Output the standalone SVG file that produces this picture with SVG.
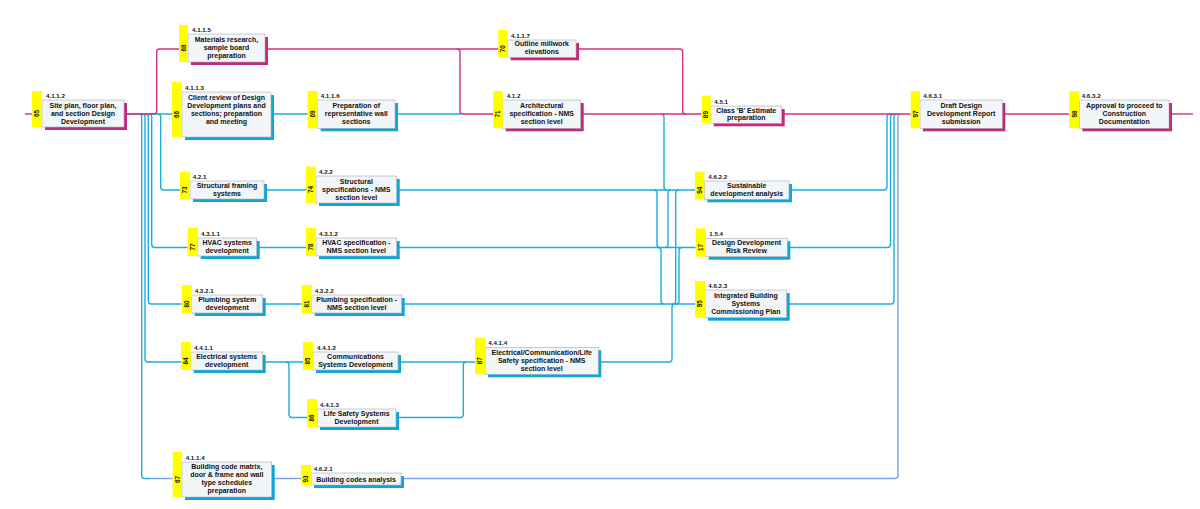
<svg xmlns="http://www.w3.org/2000/svg" width="1200" height="509" viewBox="0 0 1200 509">
<style>
.bg{fill:#ffffff}
.box{fill:#f3f6f9;stroke:#a9adb3;stroke-width:0.6}
.sm{fill:#c4287c}
.sc{fill:#0ea6d7}
.tab{fill:#ffff00}
.wbs{font-family:"Liberation Sans",Arial,sans-serif;font-weight:bold;font-size:6.2px;fill:#111}
.num{font-family:"Liberation Sans",Arial,sans-serif;font-weight:bold;font-size:6.4px;fill:#111;text-anchor:middle}
.lbl{font-family:"Liberation Sans",Arial,sans-serif;font-weight:bold;font-size:7px;fill:#111;text-anchor:middle}
.cm{fill:none;stroke:#d2307f;stroke-width:1.4}
.cc{fill:none;stroke:#1aaedb;stroke-width:1.4}
.cb{fill:none;stroke:#7aa2e4;stroke-width:1.4}
</style>
<rect class="bg" x="0" y="0" width="1200" height="509"/>
<g id="connectors">
<!-- cyan -->
<path class="cc" d="M127,114 H172"/>
<path class="cc" d="M157.7,114 Q160.7,114 160.7,117 V187 Q160.7,190 163.7,190 H180"/>
<path class="cc" d="M148.7,114 Q151.7,114 151.7,117 V244.5 Q151.7,247.5 154.7,247.5 H187.7"/>
<path class="cc" d="M145.3,114 Q148.3,114 148.3,117 V301 Q148.3,304 151.3,304 H181.7"/>
<path class="cc" d="M142,114 Q145,114 145,117 V359 Q145,362 148,362 H181"/>
<path class="cc" d="M138.7,114 Q141.7,114 141.7,117 V475.5 Q141.7,478.5 144.7,478.5 H150"/>
<path class="cb" d="M150,478.5 H172.7"/>
<path class="cc" d="M273,114 H307.7"/>
<path class="cc" d="M397,114 H461"/>
<path class="cc" d="M661,114 Q664,114 664,117 V187 Q664,190 667,190"/>
<path class="cc" d="M266,190 H306"/>
<path class="cc" d="M398.7,190 H695"/>
<path class="cc" d="M654,190 Q657,190 657,193 V244.5 Q657,247.5 660,247.5"/>
<path class="cc" d="M258.7,247.5 H306"/>
<path class="cc" d="M398.7,247.5 H695.7"/>
<path class="cc" d="M665,247.5 Q668,247.5 668,244.5 V193 Q668,190 671,190"/>
<path class="cc" d="M658,247.5 Q661,247.5 661,250.5 V301 Q661,304 664,304"/>
<path class="cc" d="M264.7,304 H301.7"/>
<path class="cc" d="M403.7,304 H695"/>
<path class="cc" d="M676,304 Q679,304 679,301 V250.5 Q679,247.5 682,247.5"/>
<path class="cc" d="M672.7,304 Q675.7,304 675.7,301 V193 Q675.7,190 678.7,190"/>
<path class="cc" d="M264.7,362 H303"/>
<path class="cc" d="M286,362 Q289,362 289,365 V414.5 Q289,417.5 292,417.5 H307"/>
<path class="cc" d="M400,362 H475"/>
<path class="cc" d="M398,417.5 H460.3 Q463.3,417.5 463.3,414.5 V365 Q463.3,362 466.3,362"/>
<path class="cc" d="M600.3,362 H669 Q672,362 672,359 V307 Q672,304 675,304"/>
<path class="cc" d="M791,190 H884 Q887,190 887,187 V117 Q887,114 890,114"/>
<path class="cc" d="M789,247.5 H887.5 Q890.5,247.5 890.5,244.5 V117 Q890.5,114 893.5,114"/>
<path class="cc" d="M788.3,304 H891 Q894,304 894,301 V117 Q894,114 897,114"/>
<!-- blue -->
<path class="cb" d="M274,478.5 H301"/>
<path class="cb" d="M403,478.5 H895 Q898,478.5 898,475.5 V117 Q898,114 901,114"/>
<!-- magenta (critical) -->
<path class="cm" d="M25,114 H32"/>
<path class="cm" d="M127,114 H153.7 Q156.7,114 156.7,111 V52 Q156.7,49 159.7,49 H179"/>
<path class="cm" d="M268,49 H498.3"/>
<path class="cm" d="M457,49 Q460,49 460,52 V111 Q460,114 463,114 H493.3"/>
<path class="cm" d="M578,49 H679.7 Q682.7,49 682.7,52 V111 Q682.7,114 685.7,114"/>
<path class="cm" d="M583,114 H701.7"/>
<path class="cm" d="M784,114 H910.7"/>
<path class="cm" d="M1004.3,114 H1069.3"/>
<path class="cm" d="M1171,114 H1193"/>
</g>

<g id="n65">
<rect class="sm" x="45" y="103" width="82" height="27"/>
<rect class="box" x="42" y="100" width="82" height="27"/>
<rect class="tab" x="32" y="91" width="10" height="36"/>
<text class="wbs" x="46" y="97.5">4.1.1.2</text>
<text class="num" transform="translate(37,113.5) rotate(-90)" y="2.2">65</text>
<text class="lbl"><tspan x="83" y="108.3">Site plan, floor plan,</tspan><tspan x="83" y="116.3">and section Design</tspan><tspan x="83" y="124.3">Development</tspan></text>
</g>

<g id="n68">
<rect class="sm" x="191" y="37" width="77" height="28"/>
<rect class="box" x="188" y="34" width="77" height="28"/>
<rect class="tab" x="179" y="25" width="9" height="37"/>
<text class="wbs" x="192" y="31.5">4.1.1.5</text>
<text class="num" transform="translate(183.5,48) rotate(-90)" y="2.2">68</text>
<text class="lbl"><tspan x="226.5" y="41.8">Materials research,</tspan><tspan x="226.5" y="49.8">sample board</tspan><tspan x="226.5" y="57.8">preparation</tspan></text>
</g>

<g id="n66">
<rect class="sc" x="185" y="95" width="89" height="45"/>
<rect class="box" x="182" y="92" width="89" height="45"/>
<rect class="tab" x="172" y="82" width="10" height="55"/>
<text class="wbs" x="185" y="89.5">4.1.1.3</text>
<text class="num" transform="translate(177,114.5) rotate(-90)" y="2.2">66</text>
<text class="lbl"><tspan x="226.5" y="99.5">Client review of Design</tspan><tspan x="226.5" y="107.5">Development  plans and</tspan><tspan x="226.5" y="115.5">sections; preparation</tspan><tspan x="226.5" y="123.5">and meeting</tspan></text>
</g>

<g id="n69">
<rect class="sc" x="320.7" y="103" width="77.3" height="28.3"/>
<rect class="box" x="317.7" y="100" width="77.3" height="28.3"/>
<rect class="tab" x="307.7" y="91" width="10" height="37.3"/>
<text class="wbs" x="320.7" y="97.5">4.1.1.6</text>
<text class="num" transform="translate(312.7,114) rotate(-90)" y="2.2">69</text>
<text class="lbl"><tspan x="356.3" y="107.8">Preparation of</tspan><tspan x="356.3" y="115.8">representative wall</tspan><tspan x="356.3" y="123.8">sections</tspan></text>
</g>

<g id="n70">
<rect class="sm" x="510.7" y="43" width="68.3" height="17.3"/>
<rect class="box" x="507.7" y="40" width="68.3" height="17.3"/>
<rect class="tab" x="498.3" y="30" width="9.4" height="27.3"/>
<text class="wbs" x="511" y="37.5">4.1.1.7</text>
<text class="num" transform="translate(503,48.7) rotate(-90)" y="2.2">70</text>
<text class="lbl"><tspan x="541.8" y="46.2">Outline millwork</tspan><tspan x="541.8" y="54.4">elevations</tspan></text>
</g>

<g id="n71">
<rect class="sm" x="505.7" y="103" width="78" height="28.3"/>
<rect class="box" x="502.7" y="100" width="78" height="28.3"/>
<rect class="tab" x="493.3" y="91" width="9.4" height="37.3"/>
<text class="wbs" x="506.7" y="97.5">4.1.2</text>
<text class="num" transform="translate(498,114) rotate(-90)" y="2.2">71</text>
<text class="lbl"><tspan x="541.7" y="107.8">Architectural</tspan><tspan x="541.7" y="115.8">specification - NMS</tspan><tspan x="541.7" y="123.8">section level</tspan></text>
</g>

<g id="n89">
<rect class="sm" x="713.7" y="109" width="71" height="17.3"/>
<rect class="box" x="710.7" y="106" width="71" height="17.3"/>
<rect class="tab" x="701.7" y="95.7" width="9" height="27.6"/>
<text class="wbs" x="714.3" y="103.5">4.5.1</text>
<text class="num" transform="translate(706.2,114.6) rotate(-90)" y="2.2">89</text>
<text class="lbl"><tspan x="746.2" y="112.5">Class 'B' Estimate</tspan><tspan x="746.2" y="120.2">preparation</tspan></text>
</g>

<g id="n97">
<rect class="sm" x="923" y="103" width="82.3" height="28.3"/>
<rect class="box" x="920" y="100" width="82.3" height="28.3"/>
<rect class="tab" x="910.7" y="91" width="9.3" height="37.3"/>
<text class="wbs" x="923.3" y="97.5">4.6.3.1</text>
<text class="num" transform="translate(915.3,114) rotate(-90)" y="2.2">97</text>
<text class="lbl"><tspan x="961.2" y="107.8">Draft Design</tspan><tspan x="961.2" y="115.8">Development Report</tspan><tspan x="961.2" y="123.8">submission</tspan></text>
</g>

<g id="n98">
<rect class="sm" x="1082.3" y="103" width="89.7" height="28.3"/>
<rect class="box" x="1079.3" y="100" width="89.7" height="28.3"/>
<rect class="tab" x="1069.3" y="91" width="10" height="37.3"/>
<text class="wbs" x="1081.7" y="97.5">4.6.3.2</text>
<text class="num" transform="translate(1074.3,114) rotate(-90)" y="2.2">98</text>
<text class="lbl"><tspan x="1124.2" y="107.8">Approval to proceed to</tspan><tspan x="1124.2" y="115.8">Construction</tspan><tspan x="1124.2" y="123.8">Documentation</tspan></text>
</g>

<g id="n73">
<rect class="sc" x="193" y="184" width="74" height="18"/>
<rect class="box" x="190" y="181" width="74" height="18"/>
<rect class="tab" x="180" y="171.7" width="10" height="27.3"/>
<text class="wbs" x="192.7" y="178.5">4.2.1</text>
<text class="num" transform="translate(185,190) rotate(-90)" y="2.2">73</text>
<text class="lbl"><tspan x="227" y="188.2">Structural framing</tspan><tspan x="227" y="196.2">systems</tspan></text>
</g>

<g id="n74">
<rect class="sc" x="319" y="179" width="80.7" height="27"/>
<rect class="box" x="316" y="176" width="80.7" height="27"/>
<rect class="tab" x="306" y="166.7" width="10" height="36.3"/>
<text class="wbs" x="319" y="173.5">4.2.2</text>
<text class="num" transform="translate(311,189.5) rotate(-90)" y="2.2">74</text>
<text class="lbl"><tspan x="356.3" y="183.8">Structural</tspan><tspan x="356.3" y="192">specifications - NMS</tspan><tspan x="356.3" y="200">section level</tspan></text>
</g>

<g id="n77">
<rect class="sc" x="200.7" y="241" width="59" height="18"/>
<rect class="box" x="197.7" y="238" width="59" height="18"/>
<rect class="tab" x="187.7" y="228" width="10" height="28"/>
<text class="wbs" x="201" y="235.5">4.3.1.1</text>
<text class="num" transform="translate(192.7,247) rotate(-90)" y="2.2">77</text>
<text class="lbl"><tspan x="227.2" y="245.2">HVAC systems</tspan><tspan x="227.2" y="253.2">development</tspan></text>
</g>

<g id="n78">
<rect class="sc" x="319" y="241" width="80.7" height="18"/>
<rect class="box" x="316" y="238" width="80.7" height="18"/>
<rect class="tab" x="306" y="228" width="10" height="28"/>
<text class="wbs" x="319" y="235.5">4.3.1.2</text>
<text class="num" transform="translate(311,247) rotate(-90)" y="2.2">78</text>
<text class="lbl"><tspan x="356.3" y="245.2">HVAC specification -</tspan><tspan x="356.3" y="253.2">NMS section level</tspan></text>
</g>

<g id="n80">
<rect class="sc" x="194.7" y="298" width="71" height="18"/>
<rect class="box" x="191.7" y="295" width="71" height="18"/>
<rect class="tab" x="181.7" y="285" width="10" height="28"/>
<text class="wbs" x="194.7" y="292.5">4.3.2.1</text>
<text class="num" transform="translate(186.7,304) rotate(-90)" y="2.2">80</text>
<text class="lbl"><tspan x="227.2" y="302.2">Plumbing system</tspan><tspan x="227.2" y="310.2">development</tspan></text>
</g>

<g id="n81">
<rect class="sc" x="314.7" y="298" width="90" height="18"/>
<rect class="box" x="311.7" y="295" width="90" height="18"/>
<rect class="tab" x="301.7" y="285" width="10" height="28"/>
<text class="wbs" x="314.7" y="292.5">4.3.2.2</text>
<text class="num" transform="translate(306.7,304) rotate(-90)" y="2.2">81</text>
<text class="lbl"><tspan x="356.7" y="302.2">Plumbing specification -</tspan><tspan x="356.7" y="310.2">NMS section level</tspan></text>
</g>

<g id="n84">
<rect class="sc" x="193.7" y="355" width="72" height="18"/>
<rect class="box" x="190.7" y="352" width="72" height="18"/>
<rect class="tab" x="181" y="342" width="9.7" height="28"/>
<text class="wbs" x="194" y="349.5">4.4.1.1</text>
<text class="num" transform="translate(185.8,361) rotate(-90)" y="2.2">84</text>
<text class="lbl"><tspan x="226.7" y="359.2">Electrical systems</tspan><tspan x="226.7" y="367.2">development</tspan></text>
</g>

<g id="n85">
<rect class="sc" x="316" y="355" width="85" height="18"/>
<rect class="box" x="313" y="352" width="85" height="18"/>
<rect class="tab" x="303" y="342" width="10" height="28"/>
<text class="wbs" x="317" y="349.5">4.4.1.2</text>
<text class="num" transform="translate(308,361) rotate(-90)" y="2.2">85</text>
<text class="lbl"><tspan x="355.5" y="359.2">Communications</tspan><tspan x="355.5" y="367.2">Systems Development</tspan></text>
</g>

<g id="n86">
<rect class="sc" x="320" y="412" width="79" height="18"/>
<rect class="box" x="317" y="409" width="79" height="18"/>
<rect class="tab" x="307" y="399" width="10" height="28"/>
<text class="wbs" x="320" y="406.5">4.4.1.3</text>
<text class="num" transform="translate(312,418) rotate(-90)" y="2.2">86</text>
<text class="lbl"><tspan x="356.5" y="416.2">Life Safety Systems</tspan><tspan x="356.5" y="424.2">Development</tspan></text>
</g>

<g id="n87">
<rect class="sc" x="488" y="350.3" width="113.3" height="27"/>
<rect class="box" x="485" y="347.3" width="113.3" height="27"/>
<rect class="tab" x="475" y="337.7" width="10" height="36.6"/>
<text class="wbs" x="488.3" y="344.8">4.4.1.4</text>
<text class="num" transform="translate(480,360.8) rotate(-90)" y="2.2">87</text>
<text class="lbl"><tspan x="541.7" y="354.8">Electrical/Communication/Life</tspan><tspan x="541.7" y="362.8">Safety specification - NMS</tspan><tspan x="541.7" y="370.8">section level</tspan></text>
</g>

<g id="n67">
<rect class="sc" x="185" y="465" width="89.7" height="35"/>
<rect class="box" x="182" y="462" width="89.7" height="35"/>
<rect class="tab" x="172.7" y="452" width="9.3" height="45"/>
<text class="wbs" x="185.7" y="459.5">4.1.1.4</text>
<text class="num" transform="translate(177.3,479.5) rotate(-90)" y="2.2">67</text>
<text class="lbl"><tspan x="226.8" y="468.5">Building code matrix,</tspan><tspan x="226.8" y="476.5">door &amp; frame and wall</tspan><tspan x="226.8" y="484.5">type schedules</tspan><tspan x="226.8" y="492.5">preparation</tspan></text>
</g>

<g id="n93">
<rect class="sc" x="314" y="476" width="90" height="12"/>
<rect class="box" x="311" y="473" width="90" height="12"/>
<rect class="tab" x="301" y="465" width="10" height="20"/>
<text class="wbs" x="313.7" y="470.5">4.6.2.1</text>
<text class="num" transform="translate(306,479) rotate(-90)" y="2.2">93</text>
<text class="lbl"><tspan x="356" y="481.5">Building codes analysis</tspan></text>
</g>

<g id="n94">
<rect class="sc" x="707.3" y="184" width="84.7" height="18.3"/>
<rect class="box" x="704.3" y="181" width="84.7" height="18.3"/>
<rect class="tab" x="695" y="171.7" width="9.3" height="27.6"/>
<text class="wbs" x="708.3" y="178.5">4.6.2.2</text>
<text class="num" transform="translate(699.7,190.2) rotate(-90)" y="2.2">94</text>
<text class="lbl"><tspan x="746.7" y="188.2">Sustainable</tspan><tspan x="746.7" y="196.2">development analysis</tspan></text>
</g>

<g id="n17">
<rect class="sc" x="708.7" y="241.3" width="81.6" height="18.4"/>
<rect class="box" x="705.7" y="238.3" width="81.6" height="18.4"/>
<rect class="tab" x="695.7" y="228.3" width="10" height="28.4"/>
<text class="wbs" x="709.3" y="235.8">1.5.4</text>
<text class="num" transform="translate(700.7,247.5) rotate(-90)" y="2.2">17</text>
<text class="lbl"><tspan x="746.5" y="244.8">Design Development</tspan><tspan x="746.5" y="252.8">Risk Review</tspan></text>
</g>

<g id="n95">
<rect class="sc" x="708" y="293" width="81.7" height="27.7"/>
<rect class="box" x="705" y="290" width="81.7" height="27.7"/>
<rect class="tab" x="695" y="281" width="10" height="36.7"/>
<text class="wbs" x="708.3" y="287.5">4.6.2.3</text>
<text class="num" transform="translate(700,303.8) rotate(-90)" y="2.2">95</text>
<text class="lbl"><tspan x="745.8" y="297.5">Integrated Building</tspan><tspan x="745.8" y="305.8">Systems</tspan><tspan x="745.8" y="313.8">Commissioning Plan</tspan></text>
</g>
</svg>
